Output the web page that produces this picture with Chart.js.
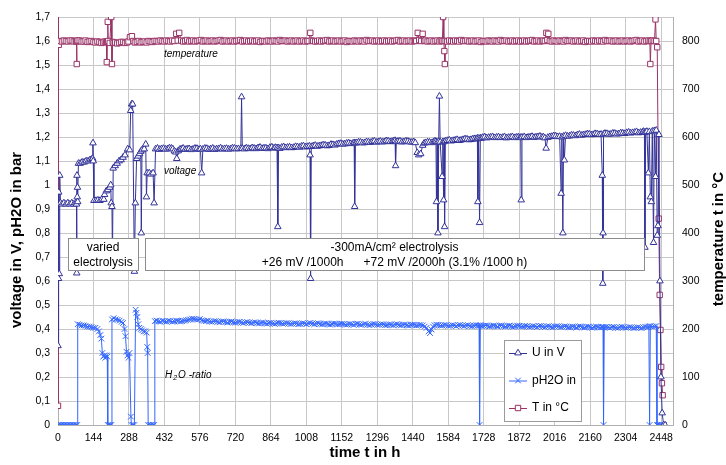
<!DOCTYPE html>
<html lang="en">
<head>
<meta charset="UTF-8">
<title>Electrolysis long-term test</title>
<script src="https://cdn.jsdelivr.net/npm/chart.js@4.4.1/dist/chart.umd.min.js"></script>
<style>
  body { margin: 0; background: #fff; }
</style>
</head>
<body>
<canvas id="chart" width="726" height="465"></canvas>
<script>
// series names and colours
const seriesNames = ['U in V', 'pH2O in', 'T in °C'];
const hourStep = 144;

// [time in h, voltage in V]
const voltage = [
  [0, 0.33], [2, 0.61], [3, 0.97], [5, 0.63], [7, 1.04], [10, 0.925], [16, 0.92], [24, 0.925], [32, 0.92],
  [40, 0.925], [48, 0.92], [56, 0.925], [64, 0.92], [72, 0.925], [75, 0.92], [76, 0.633], [77, 1.04],
  [78, 0.95], [79, 0.99], [80, 0.93], [83, 1.09], [90, 1.09], [98, 1.095], [106, 1.095], [114, 1.1],
  [122, 1.1], [130, 1.105], [138, 1.108], [141, 1.11], [142, 1.175], [143, 1.1], [146, 0.935], [154, 0.935],
  [162, 0.937], [170, 0.935], [178, 0.94], [186, 0.94], [189, 0.96], [196, 0.975], [202, 0.98], [210, 0.99],
  [214, 1.0], [216, 0.925], [219, 0.91], [221, 0.68], [224, 1.07], [232, 1.08], [240, 1.09], [248, 1.1],
  [256, 1.105], [264, 1.115], [272, 1.125], [283, 1.15], [291, 1.146], [295, 1.31], [299, 1.337], [303, 1.337],
  [310, 0.64], [314, 0.925], [319, 1.11], [325, 1.12], [331, 1.13], [336, 1.14], [338, 0.8], [341, 1.146],
  [350, 1.15], [356, 1.17], [359, 0.95], [362, 1.05], [370, 1.05], [378, 1.045], [386, 1.05], [390, 0.925],
  [396, 1.15], [404, 1.153], [412, 1.148], [420, 1.151], [428, 1.152], [436, 1.149], [444, 1.15], [452, 1.154],
  [460, 1.153], [466, 1.15], [472, 1.141], [478, 1.137], [482, 1.11], [488, 1.142], [494, 1.148], [500, 1.15],
  [508, 1.153], [516, 1.148], [524, 1.15], [532, 1.151], [540, 1.147], [548, 1.149], [556, 1.153], [564, 1.152],
  [572, 1.148], [578, 1.15], [583, 1.05], [588, 1.149], [596, 1.153], [604, 1.152], [612, 1.148], [620, 1.15],
  [628, 1.153], [636, 1.148], [644, 1.15], [652, 1.151], [660, 1.154], [668, 1.149], [676, 1.151], [684, 1.152],
  [692, 1.149], [700, 1.15], [708, 1.154], [716, 1.153], [724, 1.15], [732, 1.151], [742, 1.152], [745, 1.367],
  [748, 1.152], [756, 1.15], [764, 1.154], [772, 1.152], [780, 1.151], [788, 1.155], [796, 1.153], [804, 1.151],
  [812, 1.155], [820, 1.157], [828, 1.152], [836, 1.154], [844, 1.154], [852, 1.151], [860, 1.156], [868, 1.158],
  [876, 1.153], [882, 1.156], [889, 1.155], [892, 0.826], [895, 1.154], [900, 1.152], [908, 1.157], [916, 1.159],
  [924, 1.155], [932, 1.157], [940, 1.158], [948, 1.155], [956, 1.156], [964, 1.16], [972, 1.159], [980, 1.157],
  [988, 1.161], [996, 1.163], [1004, 1.158], [1012, 1.16], [1020, 1.162], [1023, 1.125], [1025, 0.61], [1028, 1.16],
  [1036, 1.163], [1044, 1.165], [1052, 1.161], [1060, 1.163], [1068, 1.164], [1076, 1.167], [1084, 1.166],
  [1092, 1.163], [1100, 1.164], [1108, 1.169], [1116, 1.168], [1124, 1.166], [1132, 1.17], [1140, 1.172],
  [1148, 1.173], [1156, 1.17], [1164, 1.171], [1172, 1.174], [1180, 1.175], [1188, 1.172], [1196, 1.173],
  [1202, 1.176], [1204, 0.91], [1207, 1.174], [1212, 1.176], [1220, 1.179], [1228, 1.178], [1236, 1.175],
  [1244, 1.176], [1252, 1.18], [1260, 1.179], [1268, 1.177], [1276, 1.181], [1284, 1.183], [1292, 1.178],
  [1300, 1.18], [1308, 1.182], [1316, 1.179], [1324, 1.18], [1332, 1.184], [1340, 1.183], [1348, 1.18],
  [1356, 1.181], [1362, 1.183], [1368, 1.185], [1370, 1.08], [1373, 1.18], [1380, 1.182], [1388, 1.183],
  [1396, 1.179], [1404, 1.18], [1412, 1.183], [1420, 1.182], [1428, 1.179], [1436, 1.178], [1444, 1.18],
  [1450, 1.176], [1458, 1.135], [1464, 1.125], [1472, 1.13], [1480, 1.165], [1486, 1.174], [1492, 1.176],
  [1500, 1.179], [1508, 1.178], [1516, 1.176], [1524, 1.18], [1530, 1.183], [1534, 1.181], [1536, 0.93],
  [1539, 1.178], [1542, 0.8], [1545, 1.18], [1548, 1.37], [1551, 1.179], [1559, 1.035], [1562, 1.18],
  [1565, 0.9375], [1567, 1.18], [1569, 0.826], [1572, 1.183], [1580, 1.185], [1588, 1.187], [1596, 1.183],
  [1604, 1.185], [1612, 1.187], [1620, 1.189], [1628, 1.185], [1636, 1.187], [1644, 1.189], [1652, 1.192],
  [1660, 1.191], [1668, 1.188], [1676, 1.189], [1684, 1.192], [1692, 1.193], [1698, 1.191], [1702, 1.195],
  [1704, 0.93], [1707, 1.194], [1711, 0.843], [1714, 1.196], [1718, 1.194], [1724, 1.198], [1732, 1.2],
  [1740, 1.196], [1748, 1.198], [1756, 1.199], [1764, 1.201], [1772, 1.197], [1780, 1.199], [1788, 1.2],
  [1796, 1.197], [1804, 1.198], [1812, 1.201], [1820, 1.196], [1828, 1.198], [1836, 1.199], [1844, 1.201],
  [1852, 1.197], [1860, 1.199], [1868, 1.2], [1874, 1.197], [1878, 1.198], [1880, 0.9375], [1883, 1.199],
  [1892, 1.201], [1900, 1.197], [1908, 1.199], [1916, 1.2], [1924, 1.202], [1932, 1.198], [1940, 1.2],
  [1948, 1.201], [1956, 1.203], [1964, 1.199], [1970, 1.2], [1976, 1.196], [1981, 1.153], [1988, 1.198],
  [1996, 1.201], [2004, 1.202], [2012, 1.205], [2020, 1.204], [2028, 1.201], [2036, 1.202], [2042, 0.965],
  [2045, 1.2], [2049, 0.8], [2052, 1.203], [2055, 1.104], [2060, 1.206], [2068, 1.203], [2076, 1.204],
  [2084, 1.208], [2092, 1.207], [2100, 1.205], [2108, 1.209], [2116, 1.211], [2124, 1.207], [2132, 1.209],
  [2140, 1.21], [2148, 1.213], [2156, 1.212], [2164, 1.209], [2172, 1.21], [2180, 1.214], [2188, 1.213],
  [2196, 1.21], [2204, 1.211], [2209, 1.04], [2211, 0.59], [2212, 0.8], [2214, 1.212], [2220, 1.215],
  [2228, 1.214], [2236, 1.211], [2244, 1.212], [2252, 1.216], [2260, 1.215], [2268, 1.212], [2276, 1.213],
  [2284, 1.217], [2292, 1.216], [2300, 1.214], [2308, 1.218], [2316, 1.22], [2324, 1.216], [2332, 1.218],
  [2340, 1.219], [2348, 1.222], [2356, 1.217], [2364, 1.219], [2372, 1.22], [2376, 1.223], [2380, 1.219],
  [2382, 0.74], [2385, 1.22], [2390, 1.223], [2396, 1.05], [2400, 1.222], [2404, 0.95], [2408, 0.93],
  [2412, 1.224], [2417, 0.76], [2420, 1.226], [2425, 1.035], [2428, 1.228], [2432, 0.79], [2435, 0.83],
  [2439, 1.21], [2443, 0.6], [2447, 0.2], [2452, 0.05], [2458, 0], [2464, 0]
];

// [time in h, pH2O in bar]
const steam = [
  [0, 0], [6, 0], [12, 0], [18, 0], [24, 0], [30, 0], [36, 0], [42, 0], [48, 0], [54, 0], [60, 0], [66, 0],
  [72, 0], [78, 0], [80, 0.42], [88, 0.418], [96, 0.415], [104, 0.415], [112, 0.413], [120, 0.41], [128, 0.41],
  [136, 0.408], [144, 0.405], [152, 0.405], [160, 0.4], [166, 0.39], [172, 0.375], [176, 0.36], [180, 0.3],
  [184, 0.285], [188, 0.29], [192, 0.28], [196, 0.29], [200, 0.285], [202, 0], [206, 0], [212, 0], [216, 0],
  [219, 0.44], [226, 0.445], [234, 0.44], [242, 0.438], [250, 0.435], [258, 0.43], [264, 0.425], [270, 0.4],
  [274, 0.37], [278, 0.305], [282, 0.29], [286, 0.28], [290, 0.3], [296, 0.035], [298, 0], [304, 0], [310, 0],
  [315, 0.48], [318, 0.467], [322, 0.45], [326, 0.42], [330, 0.405], [336, 0.4], [342, 0.395], [348, 0.39],
  [354, 0.39], [360, 0.385], [362, 0.325], [364, 0.3], [366, 0], [372, 0], [378, 0], [384, 0], [390, 0],
  [393, 0.433], [400, 0.435], [408, 0.432], [416, 0.43], [424, 0.434], [432, 0.432], [440, 0.431], [448, 0.434],
  [456, 0.433], [464, 0.43], [472, 0.432], [480, 0.435], [488, 0.434], [496, 0.431], [504, 0.433], [512, 0.435],
  [520, 0.436], [528, 0.438], [536, 0.44], [544, 0.443], [552, 0.442], [560, 0.44], [568, 0.439], [576, 0.441],
  [584, 0.436], [592, 0.434], [600, 0.433], [608, 0.435], [616, 0.431], [624, 0.43], [632, 0.432], [640, 0.433],
  [648, 0.43], [656, 0.428], [664, 0.431], [672, 0.432], [680, 0.429], [688, 0.427], [696, 0.43], [704, 0.431],
  [712, 0.428], [720, 0.426], [728, 0.429], [736, 0.43], [744, 0.427], [752, 0.425], [760, 0.428], [768, 0.429],
  [776, 0.426], [784, 0.424], [792, 0.427], [800, 0.428], [808, 0.425], [816, 0.423], [824, 0.426], [832, 0.427],
  [840, 0.424], [848, 0.422], [856, 0.425], [864, 0.426], [872, 0.423], [880, 0.421], [888, 0.424], [896, 0.426],
  [904, 0.425], [912, 0.422], [920, 0.423], [928, 0.425], [936, 0.424], [944, 0.421], [952, 0.422], [960, 0.424],
  [968, 0.423], [976, 0.42], [984, 0.421], [992, 0.424], [1000, 0.423], [1008, 0.42], [1016, 0.424], [1024, 0.425],
  [1032, 0.422], [1040, 0.42], [1048, 0.423], [1056, 0.424], [1064, 0.421], [1072, 0.419], [1080, 0.422],
  [1088, 0.423], [1096, 0.42], [1104, 0.418], [1112, 0.421], [1120, 0.423], [1128, 0.422], [1136, 0.419],
  [1144, 0.42], [1152, 0.422], [1160, 0.421], [1168, 0.418], [1176, 0.419], [1184, 0.421], [1192, 0.42],
  [1200, 0.417], [1208, 0.421], [1216, 0.422], [1224, 0.419], [1232, 0.417], [1240, 0.42], [1248, 0.421],
  [1256, 0.418], [1264, 0.416], [1272, 0.419], [1280, 0.421], [1288, 0.42], [1296, 0.417], [1304, 0.418],
  [1312, 0.42], [1320, 0.419], [1328, 0.416], [1336, 0.417], [1344, 0.419], [1352, 0.418], [1360, 0.415],
  [1368, 0.419], [1376, 0.42], [1384, 0.417], [1392, 0.415], [1400, 0.418], [1408, 0.419], [1416, 0.416],
  [1424, 0.414], [1432, 0.417], [1440, 0.418], [1448, 0.418], [1456, 0.415], [1464, 0.416], [1472, 0.417],
  [1480, 0.415], [1488, 0.41], [1496, 0.405], [1504, 0.39], [1510, 0.383], [1516, 0.398], [1522, 0.41],
  [1528, 0.416], [1536, 0.418], [1544, 0.417], [1552, 0.414], [1560, 0.415], [1568, 0.417], [1576, 0.416],
  [1584, 0.413], [1592, 0.414], [1600, 0.416], [1608, 0.415], [1616, 0.412], [1624, 0.416], [1632, 0.417],
  [1640, 0.414], [1648, 0.412], [1656, 0.415], [1664, 0.416], [1672, 0.413], [1680, 0.411], [1688, 0.414],
  [1696, 0.416], [1704, 0.415], [1709, 0.414], [1711, 0], [1714, 0.415], [1720, 0.412], [1728, 0.413],
  [1736, 0.415], [1744, 0.414], [1752, 0.411], [1760, 0.412], [1768, 0.414], [1776, 0.413], [1784, 0.41],
  [1792, 0.414], [1800, 0.415], [1808, 0.412], [1816, 0.41], [1824, 0.413], [1832, 0.414], [1840, 0.411],
  [1848, 0.409], [1856, 0.412], [1864, 0.414], [1872, 0.413], [1880, 0.41], [1888, 0.411], [1896, 0.413],
  [1904, 0.412], [1912, 0.409], [1920, 0.41], [1928, 0.412], [1936, 0.411], [1944, 0.408], [1952, 0.412],
  [1960, 0.413], [1968, 0.41], [1976, 0.408], [1984, 0.411], [1992, 0.412], [2000, 0.409], [2008, 0.407],
  [2016, 0.41], [2024, 0.412], [2032, 0.411], [2040, 0.408], [2048, 0.409], [2056, 0.411], [2064, 0.41],
  [2072, 0.407], [2080, 0.408], [2088, 0.41], [2096, 0.409], [2104, 0.406], [2112, 0.41], [2120, 0.411],
  [2128, 0.408], [2136, 0.406], [2144, 0.409], [2152, 0.41], [2160, 0.407], [2168, 0.405], [2176, 0.408],
  [2184, 0.41], [2192, 0.409], [2200, 0.406], [2208, 0.408], [2212, 0.407], [2214, 0], [2217, 0.408],
  [2224, 0.409], [2232, 0.407], [2240, 0.405], [2248, 0.408], [2256, 0.409], [2264, 0.406], [2272, 0.404],
  [2280, 0.407], [2288, 0.409], [2296, 0.408], [2304, 0.405], [2312, 0.406], [2320, 0.408], [2328, 0.407],
  [2336, 0.404], [2344, 0.405], [2352, 0.407], [2360, 0.406], [2368, 0.404], [2376, 0.407], [2384, 0.409],
  [2392, 0.408], [2398, 0.41], [2401, 0], [2404, 0.412], [2412, 0.41], [2420, 0.411], [2428, 0.412],
  [2431, 0], [2436, 0], [2442, 0], [2448, 0], [2454, 0], [2460, 0]
];

// [time in h, temperature in °C]
const temperature = [
  [0, 40], [1, 865], [3, 792], [8, 800], [16, 799], [24, 801], [32, 800], [40, 799], [48, 801], [56, 801],
  [64, 799], [72, 800], [75, 799], [76, 752], [77, 800], [80, 801], [88, 801], [96, 799], [104, 799], [112, 801],
  [120, 798], [128, 799], [136, 800], [144, 798], [152, 797], [160, 799], [168, 798], [176, 796], [184, 797],
  [190, 799], [196, 798], [198, 756], [200, 799], [202, 840], [204, 800], [210, 796], [216, 850], [219, 752],
  [222, 798], [226, 796], [232, 797], [240, 795], [248, 796], [256, 798], [264, 798], [272, 796], [280, 797],
  [286, 799], [292, 808], [300, 810], [306, 800], [312, 797], [320, 798], [328, 800], [336, 797], [344, 798],
  [352, 799], [360, 797], [368, 800], [376, 799], [384, 798], [392, 800], [400, 800], [408, 799], [416, 801],
  [424, 800], [432, 799], [440, 801], [448, 800], [456, 799], [464, 801], [472, 800], [480, 815], [486, 801],
  [492, 817], [500, 801], [508, 799], [516, 800], [524, 802], [532, 799], [540, 800], [548, 801], [556, 799],
  [564, 800], [572, 801], [580, 802], [588, 799], [596, 800], [604, 801], [612, 799], [620, 800], [628, 801],
  [636, 799], [644, 800], [652, 801], [660, 802], [668, 799], [676, 800], [684, 801], [692, 799], [700, 800],
  [708, 801], [716, 799], [724, 800], [732, 801], [740, 802], [748, 799], [756, 800], [764, 801], [772, 799],
  [780, 800], [788, 801], [796, 799], [804, 800], [812, 801], [820, 798], [828, 800], [836, 800], [844, 799],
  [852, 801], [860, 800], [868, 799], [876, 801], [884, 800], [892, 799], [900, 802], [908, 800], [916, 800],
  [924, 801], [932, 799], [940, 800], [948, 801], [956, 799], [964, 800], [972, 801], [980, 799], [988, 800],
  [996, 801], [1004, 799], [1012, 800], [1018, 800], [1024, 817], [1030, 801], [1036, 800], [1044, 799],
  [1052, 800], [1060, 801], [1068, 799], [1076, 800], [1084, 801], [1092, 802], [1100, 799], [1108, 800],
  [1116, 801], [1124, 799], [1132, 800], [1140, 801], [1148, 799], [1156, 800], [1164, 801], [1172, 798],
  [1180, 800], [1188, 800], [1196, 799], [1204, 801], [1212, 800], [1220, 799], [1228, 801], [1236, 800],
  [1244, 799], [1252, 802], [1260, 800], [1268, 800], [1276, 801], [1284, 799], [1292, 800], [1300, 801],
  [1308, 799], [1316, 800], [1324, 801], [1332, 799], [1340, 800], [1348, 801], [1356, 799], [1364, 800],
  [1372, 801], [1380, 802], [1388, 799], [1396, 800], [1404, 801], [1412, 799], [1420, 800], [1428, 801],
  [1436, 799], [1444, 800], [1450, 801], [1454, 800], [1460, 817], [1466, 802], [1474, 800], [1480, 815],
  [1486, 800], [1492, 801], [1500, 799], [1508, 800], [1516, 801], [1524, 799], [1532, 800], [1540, 801],
  [1548, 799], [1554, 801], [1560, 800], [1563, 850], [1566, 800], [1568, 779], [1570, 752], [1573, 800],
  [1580, 799], [1588, 801], [1596, 800], [1604, 799], [1612, 801], [1620, 800], [1628, 799], [1636, 802],
  [1644, 800], [1652, 800], [1660, 801], [1668, 799], [1676, 800], [1684, 801], [1692, 799], [1700, 800],
  [1708, 801], [1716, 798], [1724, 800], [1732, 800], [1740, 799], [1748, 801], [1756, 800], [1764, 799],
  [1772, 801], [1780, 800], [1788, 799], [1796, 802], [1804, 800], [1812, 800], [1820, 801], [1828, 799],
  [1836, 800], [1844, 801], [1852, 799], [1860, 800], [1868, 801], [1876, 799], [1884, 800], [1892, 801],
  [1900, 799], [1908, 800], [1916, 801], [1924, 802], [1932, 799], [1940, 800], [1948, 801], [1956, 799],
  [1964, 800], [1970, 801], [1976, 800], [1982, 817], [1986, 802], [1990, 815], [1996, 800], [2004, 799],
  [2012, 801], [2020, 800], [2028, 799], [2036, 801], [2044, 800], [2052, 799], [2060, 802], [2068, 800],
  [2076, 800], [2084, 801], [2092, 799], [2100, 800], [2108, 801], [2116, 799], [2124, 800], [2132, 801],
  [2140, 798], [2148, 800], [2156, 800], [2164, 799], [2172, 801], [2180, 800], [2188, 799], [2196, 801],
  [2204, 800], [2212, 799], [2220, 802], [2228, 800], [2236, 800], [2244, 801], [2252, 799], [2260, 800],
  [2268, 801], [2276, 799], [2284, 800], [2292, 801], [2300, 799], [2308, 800], [2316, 801], [2324, 799],
  [2332, 800], [2340, 801], [2348, 802], [2356, 799], [2364, 800], [2372, 801], [2380, 799], [2388, 800],
  [2396, 801], [2402, 800], [2404, 752], [2407, 800], [2414, 801], [2421, 800], [2425, 845], [2428, 800],
  [2432, 787], [2438, 430], [2442, 271], [2445, 198], [2448, 121], [2451, 87], [2454, 62]
];

const FONT = '"Liberation Sans", Arial, sans-serif';
const colors = ['#333399', '#3366ff', '#993366'];
const styles = ['triangle', 'crossRot', 'rect'];

const toXY = pts => pts.map(p => ({ x: p[0], y: p[1] }));

function marker(ctx, style, x, y, color) {
  ctx.save();
  ctx.strokeStyle = color;
  ctx.fillStyle = '#fff';
  ctx.lineWidth = 1;
  ctx.beginPath();
  if (style === 'triangle') {
    ctx.moveTo(x, y - 3.8);
    ctx.lineTo(x + 3.3, y + 1.9);
    ctx.lineTo(x - 3.3, y + 1.9);
    ctx.closePath();
    ctx.fill();
    ctx.stroke();
  } else if (style === 'rect') {
    ctx.rect(x - 2.7, y - 2.7, 5.4, 5.4);
    ctx.fill();
    ctx.stroke();
  } else {
    ctx.moveTo(x - 2.8, y - 2.8); ctx.lineTo(x + 2.8, y + 2.8);
    ctx.moveTo(x + 2.8, y - 2.8); ctx.lineTo(x - 2.8, y + 2.8);
    ctx.stroke();
  }
  ctx.restore();
}

function textBox(ctx, x1, y1, x2, y2, lines) {
  ctx.fillStyle = '#fff';
  ctx.fillRect(x1, y1, x2 - x1, y2 - y1);
  ctx.strokeStyle = '#8c8c8c';
  ctx.lineWidth = 1;
  ctx.strokeRect(x1 + 0.5, y1 + 0.5, x2 - x1, y2 - y1);
  ctx.fillStyle = '#000';
  ctx.font = '12px ' + FONT;
  ctx.textAlign = 'center';
  ctx.textBaseline = 'middle';
  const cx = (x1 + x2) / 2;
  lines.forEach((l, i) => ctx.fillText(l, cx, y1 + 10 + i * 15));
}

const decor = {
  id: 'decor',
  afterDatasetsDraw(chart) {
    const ctx = chart.ctx;
    ctx.save();
    // italic series notes
    ctx.fillStyle = '#000';
    ctx.textAlign = 'left';
    ctx.textBaseline = 'middle';
    ctx.font = 'italic 10px ' + FONT;
    ctx.fillText('temperature', 164, 54);
    ctx.fillText('voltage', 164, 171);
    ctx.fillText('H', 165, 375);
    let w = ctx.measureText('H').width;
    ctx.font = 'italic 7px ' + FONT;
    ctx.fillText('2', 165 + w + 1, 378);
    let w2 = ctx.measureText('2').width;
    ctx.font = 'italic 10px ' + FONT;
    ctx.fillText('O -ratio', 165 + w + w2 + 2, 375);

    // annotation boxes
    textBox(ctx, 68, 238, 138, 270, ['varied', 'electrolysis']);
    textBox(ctx, 145, 238, 644, 270, ['-300mA/cm² electrolysis',
      '+26 mV /1000h      +72 mV /2000h (3.1% /1000 h)']);

    // legend
    ctx.fillStyle = '#fff';
    ctx.fillRect(504, 340, 77, 81);
    ctx.strokeStyle = '#9a9a9a';
    ctx.strokeRect(504.5, 340.5, 77, 81);
    ctx.font = '12px ' + FONT;
    ctx.textAlign = 'left';
    seriesNames.forEach((name, i) => {
      const y = 353 + i * 27.5;
      ctx.strokeStyle = colors[i];
      ctx.beginPath();
      ctx.moveTo(509, y + 0.5);
      ctx.lineTo(527, y + 0.5);
      ctx.stroke();
      marker(ctx, styles[i], 518, y, colors[i]);
      ctx.fillStyle = '#000';
      ctx.fillText(name, 532, y);
    });
    ctx.restore();
  },
  afterDraw(chart) {
    const ctx = chart.ctx;
    ctx.save();
    ctx.fillStyle = '#000';
    ctx.font = 'bold 15px ' + FONT;
    ctx.textAlign = 'center';
    ctx.textBaseline = 'middle';
    ctx.fillText('time t in h', 365, 453);
    ctx.translate(17, 240);
    ctx.rotate(-Math.PI / 2);
    ctx.fillText('voltage in V, pH2O in bar', 0, 0);
    ctx.restore();
    ctx.save();
    ctx.fillStyle = '#000';
    ctx.font = 'bold 15px ' + FONT;
    ctx.textAlign = 'center';
    ctx.textBaseline = 'middle';
    ctx.translate(719, 239);
    ctx.rotate(-Math.PI / 2);
    ctx.fillText('temperature t in °C', 0, 0);
    ctx.restore();
  }
};

function dataset(i, points, axis, radius) {
  return {
    label: seriesNames[i],
    data: toXY(points),
    yAxisID: axis,
    borderColor: colors[i],
    borderWidth: 1,
    pointStyle: styles[i],
    pointRadius: radius,
    pointBorderWidth: 1,
    pointBackgroundColor: '#fff',
    pointBorderColor: colors[i],
    tension: 0
  };
}

const tickFont = { family: FONT, size: 10.5 };

new Chart(document.getElementById('chart'), {
  type: 'line',
  data: {
    datasets: [
      dataset(0, voltage, 'y', 3.8),
      dataset(1, steam, 'y', 4),
      dataset(2, temperature, 'y2', 3.8)
    ]
  },
  options: {
    responsive: false,
    animation: false,
    devicePixelRatio: 1,
    layout: { padding: { top: 17, left: 0, right: 0, bottom: 0 } },
    plugins: { legend: { display: false }, tooltip: { enabled: false } },
    scales: {
      x: {
        type: 'linear',
        min: 0,
        max: 2496,
        afterFit: s => { s.height = 40; },
        grid: { color: '#c8c8c8', drawTicks: false },
        border: { color: '#b0b0b0' },
        ticks: {
          stepSize: hourStep, includeBounds: false, autoSkip: false, maxRotation: 0,
          padding: 7, color: '#000', font: tickFont,
          callback: v => String(v)
        }
      },
      y: {
        position: 'left',
        min: 0,
        max: 1.7,
        afterFit: s => { s.width = 58; },
        grid: { color: '#c8c8c8', drawTicks: false },
        border: { color: '#b0b0b0' },
        ticks: {
          stepSize: 0.1, padding: 8, color: '#000', font: tickFont,
          callback: v => String(Math.round(v * 10) / 10).replace('.', ',')
        }
      },
      y2: {
        position: 'right',
        min: 0,
        max: 850,
        afterFit: s => { s.width = 53; },
        grid: { drawOnChartArea: false, drawTicks: false },
        border: { color: '#b0b0b0' },
        ticks: {
          stepSize: 100, includeBounds: false, padding: 9, color: '#000', font: tickFont,
          callback: v => String(v)
        }
      }
    }
  },
  plugins: [decor]
});
</script>
</body>
</html>
